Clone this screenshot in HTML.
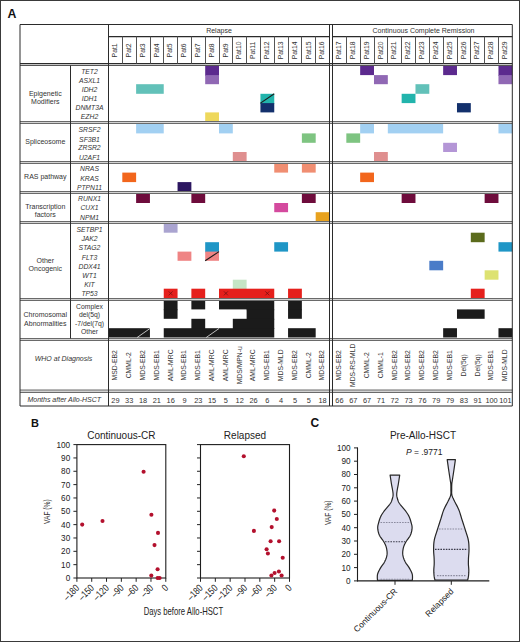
<!DOCTYPE html>
<html><head><meta charset="utf-8"><style>
html,body{margin:0;padding:0;background:#fff;}
body{width:520px;height:642px;overflow:hidden;font-family:"Liberation Sans",sans-serif;}
text{font-family:"Liberation Sans",sans-serif;}
</style></head><body>
<svg width="520" height="642" viewBox="0 0 520 642" style="display:block"><rect x="0" y="0" width="520" height="642" fill="#fff"/><g><rect x="205.19" y="65.80" width="13.81" height="10.10" fill="#5c2a8e"/><rect x="360.16" y="65.80" width="13.83" height="9.30" fill="#5c2a8e"/><rect x="443.15" y="65.80" width="13.83" height="9.30" fill="#5c2a8e"/><rect x="498.47" y="65.80" width="13.83" height="10.10" fill="#5c2a8e"/><rect x="205.19" y="75.10" width="13.81" height="9.10" fill="#9068b4"/><rect x="373.99" y="75.10" width="13.83" height="9.10" fill="#9068b4"/><rect x="498.47" y="75.10" width="13.83" height="9.10" fill="#9068b4"/><rect x="136.12" y="84.20" width="27.62" height="9.60" fill="#62c1b9"/><rect x="415.48" y="84.20" width="13.83" height="9.60" fill="#62c1b9"/><rect x="260.44" y="93.80" width="13.81" height="10.10" fill="#22b4ac"/><rect x="401.65" y="93.80" width="13.83" height="9.30" fill="#22b4ac"/><rect x="260.44" y="103.10" width="13.81" height="9.30" fill="#13306c"/><rect x="456.98" y="103.10" width="13.83" height="9.30" fill="#13306c"/><rect x="205.19" y="112.40" width="13.81" height="9.40" fill="#eed85c"/><rect x="136.12" y="124.00" width="27.62" height="9.40" fill="#a2d0f2"/><rect x="219.00" y="124.00" width="13.81" height="9.40" fill="#a2d0f2"/><rect x="360.16" y="124.00" width="13.83" height="9.40" fill="#a2d0f2"/><rect x="387.82" y="124.00" width="55.32" height="9.40" fill="#a2d0f2"/><rect x="498.47" y="124.00" width="13.83" height="9.40" fill="#a2d0f2"/><rect x="301.88" y="133.40" width="13.81" height="9.40" fill="#7ec481"/><rect x="346.33" y="133.40" width="13.83" height="9.40" fill="#7ec481"/><rect x="443.15" y="142.80" width="13.83" height="9.20" fill="#b496d6"/><rect x="232.81" y="152.00" width="13.81" height="9.20" fill="#df8f8f"/><rect x="373.99" y="152.00" width="13.83" height="9.20" fill="#df8f8f"/><rect x="274.25" y="163.80" width="13.81" height="8.80" fill="#f08e72"/><rect x="301.88" y="163.80" width="13.81" height="8.80" fill="#f08e72"/><rect x="122.31" y="172.60" width="13.81" height="9.50" fill="#f2661c"/><rect x="360.16" y="172.60" width="13.83" height="9.50" fill="#f2661c"/><rect x="177.56" y="182.10" width="13.81" height="9.20" fill="#2c1660"/><rect x="136.12" y="193.60" width="13.81" height="9.40" fill="#6e0c3c"/><rect x="191.38" y="193.60" width="13.81" height="9.40" fill="#6e0c3c"/><rect x="301.88" y="193.60" width="13.81" height="9.40" fill="#6e0c3c"/><rect x="401.65" y="193.60" width="13.83" height="9.40" fill="#6e0c3c"/><rect x="484.64" y="193.60" width="13.83" height="9.40" fill="#6e0c3c"/><rect x="274.25" y="203.00" width="13.81" height="9.20" fill="#d44a9e"/><rect x="315.69" y="212.20" width="13.81" height="9.10" fill="#e8a21e"/><rect x="163.75" y="223.50" width="13.81" height="9.20" fill="#aaa4d0"/><rect x="470.81" y="232.70" width="13.83" height="9.50" fill="#5b6b1c"/><rect x="205.19" y="242.20" width="13.81" height="10.20" fill="#1f96c6"/><rect x="274.25" y="242.20" width="13.81" height="9.40" fill="#1f96c6"/><rect x="498.47" y="242.20" width="13.83" height="9.40" fill="#1f96c6"/><rect x="177.56" y="251.60" width="13.81" height="9.20" fill="#ef8484"/><rect x="205.19" y="251.60" width="13.81" height="9.20" fill="#ef8484"/><rect x="429.32" y="260.80" width="13.83" height="9.50" fill="#4a7cc8"/><rect x="484.64" y="270.30" width="13.83" height="9.40" fill="#dde271"/><rect x="232.81" y="279.70" width="13.81" height="9.80" fill="#c5e5c5"/><rect x="163.75" y="288.70" width="13.81" height="9.30" fill="#e5201c"/><rect x="191.38" y="288.70" width="13.81" height="9.30" fill="#e5201c"/><rect x="219.00" y="288.70" width="55.25" height="9.30" fill="#e5201c"/><rect x="288.06" y="288.70" width="13.81" height="9.30" fill="#e5201c"/><rect x="470.81" y="288.70" width="13.83" height="9.30" fill="#e5201c"/><rect x="163.75" y="300.50" width="13.81" height="9.70" fill="#1b1b1b"/><rect x="191.38" y="300.50" width="13.81" height="8.90" fill="#1b1b1b"/><rect x="219.00" y="300.50" width="28.23" height="8.90" fill="#1b1b1b"/><rect x="246.62" y="300.50" width="27.62" height="9.70" fill="#1b1b1b"/><rect x="288.06" y="300.50" width="13.81" height="9.70" fill="#1b1b1b"/><rect x="163.75" y="309.40" width="13.81" height="9.40" fill="#1b1b1b"/><rect x="246.62" y="309.40" width="27.62" height="10.20" fill="#1b1b1b"/><rect x="288.06" y="309.40" width="13.81" height="9.40" fill="#1b1b1b"/><rect x="456.98" y="309.40" width="27.66" height="9.40" fill="#1b1b1b"/><rect x="191.38" y="318.80" width="13.81" height="10.20" fill="#1b1b1b"/><rect x="232.81" y="318.80" width="41.44" height="10.20" fill="#1b1b1b"/><rect x="108.50" y="328.20" width="41.44" height="9.30" fill="#1b1b1b"/><rect x="163.75" y="328.20" width="110.50" height="9.30" fill="#1b1b1b"/><rect x="288.06" y="328.20" width="27.62" height="9.30" fill="#1b1b1b"/><rect x="443.15" y="328.20" width="13.83" height="9.30" fill="#1b1b1b"/><rect x="498.47" y="328.20" width="13.83" height="9.30" fill="#1b1b1b"/></g><line x1="260.44" y1="103.10" x2="274.25" y2="93.80" stroke="#1a1a1a" stroke-width="1.1"/><line x1="205.19" y1="260.80" x2="219.00" y2="251.60" stroke="#1a1a1a" stroke-width="1.1"/><line x1="137.12" y1="337.50" x2="149.94" y2="328.50" stroke="#e8e8e8" stroke-width="0.8"/><line x1="206.19" y1="337.50" x2="219.00" y2="328.50" stroke="#e8e8e8" stroke-width="0.8"/><path d="M168.66 291.35L172.66 295.35M172.66 291.35L168.66 295.35" stroke="#6a1010" stroke-width="0.7"/><path d="M223.91 291.35L227.91 295.35M227.91 291.35L223.91 295.35" stroke="#6a1010" stroke-width="0.7"/><path d="M265.34 291.35L269.34 295.35M269.34 291.35L265.34 295.35" stroke="#6a1010" stroke-width="0.7"/><g><rect x="20.0" y="63.5" width="492.29999999999995" height="2" fill="#c4c4c4"/><line x1="20.0" y1="63.5" x2="512.3" y2="63.5" stroke="#2b2b2b" stroke-width="1"/><line x1="20.0" y1="65.5" x2="512.3" y2="65.5" stroke="#555" stroke-width="1"/><rect x="20.0" y="121.5" width="492.29999999999995" height="2.0" fill="#d2d2d2"/><line x1="20.0" y1="121.5" x2="512.3" y2="121.5" stroke="#6a6a6a" stroke-width="1"/><line x1="20.0" y1="123.5" x2="512.3" y2="123.5" stroke="#6a6a6a" stroke-width="1"/><rect x="20.0" y="161.5" width="492.29999999999995" height="2.0" fill="#d2d2d2"/><line x1="20.0" y1="161.5" x2="512.3" y2="161.5" stroke="#6a6a6a" stroke-width="1"/><line x1="20.0" y1="163.5" x2="512.3" y2="163.5" stroke="#6a6a6a" stroke-width="1"/><rect x="20.0" y="191.5" width="492.29999999999995" height="2.0" fill="#d2d2d2"/><line x1="20.0" y1="191.5" x2="512.3" y2="191.5" stroke="#6a6a6a" stroke-width="1"/><line x1="20.0" y1="193.5" x2="512.3" y2="193.5" stroke="#6a6a6a" stroke-width="1"/><rect x="20.0" y="221.5" width="492.29999999999995" height="2.0" fill="#d2d2d2"/><line x1="20.0" y1="221.5" x2="512.3" y2="221.5" stroke="#6a6a6a" stroke-width="1"/><line x1="20.0" y1="223.5" x2="512.3" y2="223.5" stroke="#6a6a6a" stroke-width="1"/><rect x="20.0" y="298.5" width="492.29999999999995" height="2.0" fill="#d2d2d2"/><line x1="20.0" y1="298.5" x2="512.3" y2="298.5" stroke="#6a6a6a" stroke-width="1"/><line x1="20.0" y1="300.5" x2="512.3" y2="300.5" stroke="#6a6a6a" stroke-width="1"/><rect x="20.0" y="338.5" width="492.29999999999995" height="2.0" fill="#d2d2d2"/><line x1="20.0" y1="338.5" x2="512.3" y2="338.5" stroke="#6a6a6a" stroke-width="1"/><line x1="20.0" y1="340.5" x2="512.3" y2="340.5" stroke="#6a6a6a" stroke-width="1"/><rect x="20.0" y="390" width="492.29999999999995" height="2.5" fill="#d2d2d2"/><line x1="20.0" y1="390" x2="512.3" y2="390" stroke="#6a6a6a" stroke-width="1"/><line x1="20.0" y1="392.5" x2="512.3" y2="392.5" stroke="#6a6a6a" stroke-width="1"/><line x1="20.0" y1="24.5" x2="512.3" y2="24.5" stroke="#2b2b2b" stroke-width="1"/><line x1="20.0" y1="406.0" x2="512.3" y2="406.0" stroke="#2b2b2b" stroke-width="1"/><line x1="20.0" y1="24.5" x2="20.0" y2="406.0" stroke="#2b2b2b" stroke-width="1"/><line x1="512.3" y1="24.5" x2="512.3" y2="406.0" stroke="#2b2b2b" stroke-width="1"/><line x1="108.5" y1="24.5" x2="108.5" y2="406.0" stroke="#2b2b2b" stroke-width="1"/><line x1="329.5" y1="24.5" x2="329.5" y2="406.0" stroke="#2b2b2b" stroke-width="1"/><line x1="332.5" y1="24.5" x2="332.5" y2="406.0" stroke="#2b2b2b" stroke-width="1"/><line x1="108.5" y1="36.6" x2="329.5" y2="36.6" stroke="#2b2b2b" stroke-width="1.3"/><line x1="332.5" y1="36.6" x2="512.3" y2="36.6" stroke="#2b2b2b" stroke-width="1.3"/><line x1="122.5" y1="36.5" x2="122.5" y2="63.5" stroke="#555" stroke-width="1"/><line x1="136.5" y1="36.5" x2="136.5" y2="63.5" stroke="#555" stroke-width="1"/><line x1="150.5" y1="36.5" x2="150.5" y2="63.5" stroke="#555" stroke-width="1"/><line x1="163.5" y1="36.5" x2="163.5" y2="63.5" stroke="#555" stroke-width="1"/><line x1="177.5" y1="36.5" x2="177.5" y2="63.5" stroke="#555" stroke-width="1"/><line x1="191.5" y1="36.5" x2="191.5" y2="63.5" stroke="#555" stroke-width="1"/><line x1="205.5" y1="36.5" x2="205.5" y2="63.5" stroke="#555" stroke-width="1"/><line x1="219.5" y1="36.5" x2="219.5" y2="63.5" stroke="#555" stroke-width="1"/><line x1="232.5" y1="36.5" x2="232.5" y2="63.5" stroke="#555" stroke-width="1"/><line x1="246.5" y1="36.5" x2="246.5" y2="63.5" stroke="#555" stroke-width="1"/><line x1="260.5" y1="36.5" x2="260.5" y2="63.5" stroke="#555" stroke-width="1"/><line x1="274.5" y1="36.5" x2="274.5" y2="63.5" stroke="#555" stroke-width="1"/><line x1="288.5" y1="36.5" x2="288.5" y2="63.5" stroke="#555" stroke-width="1"/><line x1="301.5" y1="36.5" x2="301.5" y2="63.5" stroke="#555" stroke-width="1"/><line x1="315.5" y1="36.5" x2="315.5" y2="63.5" stroke="#555" stroke-width="1"/><line x1="346.5" y1="36.5" x2="346.5" y2="63.5" stroke="#555" stroke-width="1"/><line x1="360.5" y1="36.5" x2="360.5" y2="63.5" stroke="#555" stroke-width="1"/><line x1="374.5" y1="36.5" x2="374.5" y2="63.5" stroke="#555" stroke-width="1"/><line x1="387.5" y1="36.5" x2="387.5" y2="63.5" stroke="#555" stroke-width="1"/><line x1="401.5" y1="36.5" x2="401.5" y2="63.5" stroke="#555" stroke-width="1"/><line x1="415.5" y1="36.5" x2="415.5" y2="63.5" stroke="#555" stroke-width="1"/><line x1="429.5" y1="36.5" x2="429.5" y2="63.5" stroke="#555" stroke-width="1"/><line x1="443.5" y1="36.5" x2="443.5" y2="63.5" stroke="#555" stroke-width="1"/><line x1="457.5" y1="36.5" x2="457.5" y2="63.5" stroke="#555" stroke-width="1"/><line x1="470.5" y1="36.5" x2="470.5" y2="63.5" stroke="#555" stroke-width="1"/><line x1="484.5" y1="36.5" x2="484.5" y2="63.5" stroke="#555" stroke-width="1"/><line x1="498.5" y1="36.5" x2="498.5" y2="63.5" stroke="#555" stroke-width="1"/><line x1="70.5" y1="65.5" x2="70.5" y2="338.5" stroke="#2b2b2b" stroke-width="1"/></g><rect x="76.9" y="444.60" width="88.9" height="133.40" fill="none" stroke="#1e1e1e" stroke-width="1.1"/><line x1="73.4" y1="578.00" x2="76.9" y2="578.00" stroke="#222" stroke-width="1"/><line x1="73.4" y1="564.66" x2="76.9" y2="564.66" stroke="#222" stroke-width="1"/><line x1="73.4" y1="551.32" x2="76.9" y2="551.32" stroke="#222" stroke-width="1"/><line x1="73.4" y1="537.98" x2="76.9" y2="537.98" stroke="#222" stroke-width="1"/><line x1="73.4" y1="524.64" x2="76.9" y2="524.64" stroke="#222" stroke-width="1"/><line x1="73.4" y1="511.30" x2="76.9" y2="511.30" stroke="#222" stroke-width="1"/><line x1="73.4" y1="497.96" x2="76.9" y2="497.96" stroke="#222" stroke-width="1"/><line x1="73.4" y1="484.62" x2="76.9" y2="484.62" stroke="#222" stroke-width="1"/><line x1="73.4" y1="471.28" x2="76.9" y2="471.28" stroke="#222" stroke-width="1"/><line x1="73.4" y1="457.94" x2="76.9" y2="457.94" stroke="#222" stroke-width="1"/><line x1="73.4" y1="444.60" x2="76.9" y2="444.60" stroke="#222" stroke-width="1"/><line x1="76.90" y1="578" x2="76.90" y2="581.8" stroke="#222" stroke-width="1"/><line x1="91.72" y1="578" x2="91.72" y2="581.8" stroke="#222" stroke-width="1"/><line x1="106.53" y1="578" x2="106.53" y2="581.8" stroke="#222" stroke-width="1"/><line x1="121.35" y1="578" x2="121.35" y2="581.8" stroke="#222" stroke-width="1"/><line x1="136.17" y1="578" x2="136.17" y2="581.8" stroke="#222" stroke-width="1"/><line x1="150.98" y1="578" x2="150.98" y2="581.8" stroke="#222" stroke-width="1"/><line x1="165.80" y1="578" x2="165.80" y2="581.8" stroke="#222" stroke-width="1"/><rect x="200.5" y="444.60" width="89.0" height="133.40" fill="none" stroke="#1e1e1e" stroke-width="1.1"/><line x1="197.0" y1="578.00" x2="200.5" y2="578.00" stroke="#222" stroke-width="1"/><line x1="197.0" y1="564.66" x2="200.5" y2="564.66" stroke="#222" stroke-width="1"/><line x1="197.0" y1="551.32" x2="200.5" y2="551.32" stroke="#222" stroke-width="1"/><line x1="197.0" y1="537.98" x2="200.5" y2="537.98" stroke="#222" stroke-width="1"/><line x1="197.0" y1="524.64" x2="200.5" y2="524.64" stroke="#222" stroke-width="1"/><line x1="197.0" y1="511.30" x2="200.5" y2="511.30" stroke="#222" stroke-width="1"/><line x1="197.0" y1="497.96" x2="200.5" y2="497.96" stroke="#222" stroke-width="1"/><line x1="197.0" y1="484.62" x2="200.5" y2="484.62" stroke="#222" stroke-width="1"/><line x1="197.0" y1="471.28" x2="200.5" y2="471.28" stroke="#222" stroke-width="1"/><line x1="197.0" y1="457.94" x2="200.5" y2="457.94" stroke="#222" stroke-width="1"/><line x1="197.0" y1="444.60" x2="200.5" y2="444.60" stroke="#222" stroke-width="1"/><line x1="200.50" y1="578" x2="200.50" y2="581.8" stroke="#222" stroke-width="1"/><line x1="215.33" y1="578" x2="215.33" y2="581.8" stroke="#222" stroke-width="1"/><line x1="230.17" y1="578" x2="230.17" y2="581.8" stroke="#222" stroke-width="1"/><line x1="245.00" y1="578" x2="245.00" y2="581.8" stroke="#222" stroke-width="1"/><line x1="259.83" y1="578" x2="259.83" y2="581.8" stroke="#222" stroke-width="1"/><line x1="274.67" y1="578" x2="274.67" y2="581.8" stroke="#222" stroke-width="1"/><line x1="289.50" y1="578" x2="289.50" y2="581.8" stroke="#222" stroke-width="1"/><circle cx="82.2" cy="524.6" r="2.05" fill="#b3102d"/><circle cx="102.5" cy="521.0" r="2.05" fill="#b3102d"/><circle cx="143.6" cy="471.8" r="2.05" fill="#b3102d"/><circle cx="151.4" cy="514.7" r="2.05" fill="#b3102d"/><circle cx="158" cy="532.9" r="2.05" fill="#b3102d"/><circle cx="154.5" cy="545.1" r="2.05" fill="#b3102d"/><circle cx="157.6" cy="569.3" r="2.05" fill="#b3102d"/><circle cx="151.3" cy="575.6" r="2.05" fill="#b3102d"/><circle cx="157.6" cy="578" r="2.05" fill="#b3102d"/><circle cx="159.6" cy="578" r="2.05" fill="#b3102d"/><circle cx="243.8" cy="456.3" r="2.05" fill="#b3102d"/><circle cx="274.2" cy="510.6" r="2.05" fill="#b3102d"/><circle cx="276.8" cy="519" r="2.05" fill="#b3102d"/><circle cx="271.7" cy="527.1" r="2.05" fill="#b3102d"/><circle cx="253.9" cy="530.9" r="2.05" fill="#b3102d"/><circle cx="270.6" cy="541.3" r="2.05" fill="#b3102d"/><circle cx="279.1" cy="541.3" r="2.05" fill="#b3102d"/><circle cx="266.6" cy="549.3" r="2.05" fill="#b3102d"/><circle cx="267.9" cy="553.5" r="2.05" fill="#b3102d"/><circle cx="282.7" cy="557.8" r="2.05" fill="#b3102d"/><circle cx="278.9" cy="571.5" r="2.05" fill="#b3102d"/><circle cx="274.6" cy="573" r="2.05" fill="#b3102d"/><circle cx="271.4" cy="575.5" r="2.05" fill="#b3102d"/><circle cx="281.6" cy="575.5" r="2.05" fill="#b3102d"/><line x1="357.5" y1="447.40" x2="357.5" y2="581.4" stroke="#1e1e1e" stroke-width="1.1"/><line x1="357" y1="580.9" x2="489.3" y2="580.9" stroke="#1e1e1e" stroke-width="1.1"/><line x1="354" y1="580.90" x2="357.5" y2="580.90" stroke="#222" stroke-width="1"/><line x1="354" y1="567.60" x2="357.5" y2="567.60" stroke="#222" stroke-width="1"/><line x1="354" y1="554.30" x2="357.5" y2="554.30" stroke="#222" stroke-width="1"/><line x1="354" y1="541.00" x2="357.5" y2="541.00" stroke="#222" stroke-width="1"/><line x1="354" y1="527.70" x2="357.5" y2="527.70" stroke="#222" stroke-width="1"/><line x1="354" y1="514.40" x2="357.5" y2="514.40" stroke="#222" stroke-width="1"/><line x1="354" y1="501.10" x2="357.5" y2="501.10" stroke="#222" stroke-width="1"/><line x1="354" y1="487.80" x2="357.5" y2="487.80" stroke="#222" stroke-width="1"/><line x1="354" y1="474.50" x2="357.5" y2="474.50" stroke="#222" stroke-width="1"/><line x1="354" y1="461.20" x2="357.5" y2="461.20" stroke="#222" stroke-width="1"/><line x1="354" y1="447.90" x2="357.5" y2="447.90" stroke="#222" stroke-width="1"/><line x1="395.0" y1="580.9" x2="395.0" y2="584.8" stroke="#222" stroke-width="1"/><line x1="451.3" y1="580.9" x2="451.3" y2="584.8" stroke="#222" stroke-width="1"/><polygon points="399.70,475.10 398.35,484.00 398.15,485.08 397.86,486.61 397.52,488.41 397.19,490.27 396.91,492.00 396.75,493.40 396.70,494.44 396.71,495.29 396.79,495.99 396.91,496.64 397.07,497.28 397.25,498.00 397.45,498.78 397.67,499.56 397.93,500.34 398.23,501.13 398.59,501.92 399.00,502.70 399.49,503.48 400.06,504.27 400.68,505.06 401.32,505.84 401.97,506.62 402.60,507.40 403.22,508.17 403.86,508.94 404.50,509.70 405.13,510.46 405.73,511.23 406.30,512.00 406.83,512.76 407.35,513.52 407.83,514.28 408.30,515.05 408.74,515.85 409.15,516.70 409.54,517.61 409.90,518.56 410.24,519.54 410.55,520.54 410.84,521.53 411.10,522.50 411.35,523.43 411.60,524.33 411.83,525.22 412.00,526.13 412.10,527.08 412.10,528.10 412.00,529.20 411.83,530.37 411.59,531.59 411.27,532.81 410.87,534.03 410.40,535.20 409.80,536.34 409.06,537.47 408.25,538.59 407.43,539.69 406.65,540.76 406.00,541.80 405.45,542.77 404.96,543.69 404.52,544.57 404.13,545.47 403.79,546.40 403.50,547.40 403.24,548.48 403.01,549.63 402.83,550.81 402.71,552.01 402.68,553.21 402.75,554.40 402.93,555.59 403.21,556.80 403.57,558.01 404.00,559.20 404.48,560.37 405.00,561.50 405.59,562.57 406.27,563.61 407.00,564.61 407.75,565.60 408.46,566.59 409.10,567.60 409.69,568.64 410.28,569.70 410.83,570.76 411.33,571.80 411.76,572.79 412.10,573.70 412.32,574.57 412.44,575.43 412.49,576.23 412.49,576.95 412.49,577.55 412.50,578.00 412.30,580.40 377.50,580.40 377.30,578.00 377.31,577.55 377.31,576.95 377.31,576.23 377.36,575.43 377.48,574.57 377.70,573.70 378.04,572.79 378.47,571.80 378.97,570.76 379.52,569.70 380.11,568.64 380.70,567.60 381.34,566.59 382.05,565.60 382.80,564.61 383.53,563.61 384.21,562.57 384.80,561.50 385.32,560.37 385.80,559.20 386.23,558.01 386.59,556.80 386.87,555.59 387.05,554.40 387.12,553.21 387.09,552.01 386.97,550.81 386.79,549.63 386.56,548.48 386.30,547.40 386.01,546.40 385.67,545.47 385.28,544.57 384.84,543.69 384.35,542.77 383.80,541.80 383.15,540.76 382.37,539.69 381.55,538.59 380.74,537.47 380.00,536.34 379.40,535.20 378.93,534.03 378.53,532.81 378.21,531.59 377.97,530.37 377.80,529.20 377.70,528.10 377.70,527.08 377.80,526.13 377.97,525.22 378.20,524.33 378.45,523.43 378.70,522.50 378.96,521.53 379.25,520.54 379.56,519.54 379.90,518.56 380.26,517.61 380.65,516.70 381.06,515.85 381.50,515.05 381.97,514.28 382.45,513.52 382.97,512.76 383.50,512.00 384.07,511.23 384.67,510.46 385.30,509.70 385.94,508.94 386.58,508.17 387.20,507.40 387.83,506.62 388.48,505.84 389.12,505.06 389.74,504.27 390.31,503.48 390.80,502.70 391.21,501.92 391.57,501.13 391.87,500.34 392.13,499.56 392.35,498.78 392.55,498.00 392.73,497.28 392.89,496.64 393.01,495.99 393.09,495.29 393.10,494.44 393.05,493.40 392.89,492.00 392.61,490.27 392.28,488.41 391.94,486.61 391.65,485.08 391.45,484.00 390.10,475.10" fill="#dcdcef" stroke="#262626" stroke-width="1.2" stroke-linejoin="round"/><polygon points="455.40,459.60 454.05,469.20 453.86,470.45 453.58,472.25 453.26,474.35 452.93,476.50 452.63,478.47 452.40,480.00 452.23,481.04 452.10,481.76 452.00,482.30 451.92,482.77 451.86,483.30 451.80,484.00 451.75,484.90 451.72,485.89 451.70,486.94 451.69,488.00 451.69,489.03 451.70,490.00 451.69,490.88 451.66,491.71 451.64,492.51 451.66,493.31 451.74,494.13 451.90,495.00 452.15,495.89 452.46,496.77 452.84,497.67 453.27,498.62 453.76,499.66 454.30,500.80 454.93,502.06 455.66,503.42 456.44,504.86 457.23,506.36 458.00,507.91 458.70,509.50 459.33,511.16 459.93,512.92 460.49,514.73 461.04,516.54 461.57,518.32 462.10,520.00 462.61,521.56 463.09,523.04 463.56,524.47 464.02,525.91 464.50,527.40 465.00,529.00 465.56,530.73 466.17,532.57 466.79,534.47 467.38,536.37 467.90,538.23 468.30,540.00 468.58,541.68 468.77,543.31 468.89,544.91 468.95,546.46 468.98,547.99 469.00,549.50 468.98,551.00 468.91,552.50 468.80,553.97 468.68,555.39 468.57,556.74 468.50,558.00 468.45,559.14 468.42,560.19 468.39,561.16 468.38,562.09 468.38,563.03 468.40,564.00 468.44,565.01 468.52,566.04 468.61,567.06 468.69,568.07 468.76,569.06 468.80,570.00 468.80,570.91 468.79,571.80 468.76,572.66 468.71,573.48 468.66,574.27 468.60,575.00 468.53,575.71 468.44,576.41 468.34,577.06 468.24,577.65 468.16,578.14 468.10,578.50 467.50,580.20 435.10,580.20 434.50,578.50 434.44,578.14 434.36,577.65 434.26,577.06 434.16,576.41 434.07,575.71 434.00,575.00 433.94,574.27 433.89,573.48 433.84,572.66 433.81,571.80 433.80,570.91 433.80,570.00 433.84,569.06 433.91,568.07 433.99,567.06 434.08,566.04 434.16,565.01 434.20,564.00 434.22,563.03 434.22,562.09 434.21,561.16 434.18,560.19 434.15,559.14 434.10,558.00 434.03,556.74 433.92,555.39 433.80,553.97 433.69,552.50 433.62,551.00 433.60,549.50 433.62,547.99 433.65,546.46 433.71,544.91 433.83,543.31 434.02,541.68 434.30,540.00 434.70,538.23 435.22,536.37 435.81,534.47 436.43,532.57 437.04,530.73 437.60,529.00 438.10,527.40 438.58,525.91 439.04,524.47 439.51,523.04 439.99,521.56 440.50,520.00 441.03,518.32 441.56,516.54 442.11,514.73 442.67,512.92 443.27,511.16 443.90,509.50 444.60,507.91 445.37,506.36 446.16,504.86 446.94,503.42 447.67,502.06 448.30,500.80 448.84,499.66 449.33,498.62 449.76,497.67 450.14,496.77 450.45,495.89 450.70,495.00 450.86,494.13 450.94,493.31 450.96,492.51 450.94,491.71 450.91,490.88 450.90,490.00 450.91,489.03 450.91,488.00 450.90,486.94 450.88,485.89 450.85,484.90 450.80,484.00 450.74,483.30 450.68,482.77 450.60,482.30 450.50,481.76 450.37,481.04 450.20,480.00 449.97,478.47 449.67,476.50 449.34,474.35 449.02,472.25 448.74,470.45 448.55,469.20 447.20,459.60" fill="#dcdcef" stroke="#262626" stroke-width="1.2" stroke-linejoin="round"/><line x1="380.5" y1="522.5" x2="409.5" y2="522.5" stroke="#8a8a9e" stroke-width="1.1" stroke-dasharray="1.6,1.1"/><line x1="385" y1="541.8" x2="405" y2="541.8" stroke="#3a3a4a" stroke-width="1.1" stroke-dasharray="1.6,1.1"/><line x1="380.5" y1="579.2" x2="409.5" y2="579.2" stroke="#8a8a9e" stroke-width="1.1" stroke-dasharray="1.6,1.1"/><line x1="439" y1="529" x2="463.5" y2="529" stroke="#8a8a9e" stroke-width="1.1" stroke-dasharray="1.6,1.1"/><line x1="435" y1="549.4" x2="467.5" y2="549.4" stroke="#3a3a4a" stroke-width="1.1" stroke-dasharray="1.6,1.1"/><line x1="437" y1="575.6" x2="465.5" y2="575.6" stroke="#8a8a9e" stroke-width="1.1" stroke-dasharray="1.6,1.1"/><g font-family="Liberation Sans, sans-serif"><text x="219" y="33" font-size="7" text-anchor="middle" fill="#333" >Relapse</text><text x="423.5" y="33" font-size="7" text-anchor="middle" fill="#333" >Continuous Complete Remission</text><text transform="translate(117.16,50.4) rotate(-90)" font-size="6.8" text-anchor="middle" fill="#333">Pat1</text><text transform="translate(130.97,50.4) rotate(-90)" font-size="6.8" text-anchor="middle" fill="#333">Pat2</text><text transform="translate(144.78,50.4) rotate(-90)" font-size="6.8" text-anchor="middle" fill="#333">Pat3</text><text transform="translate(158.59,50.4) rotate(-90)" font-size="6.8" text-anchor="middle" fill="#333">Pat4</text><text transform="translate(172.41,50.4) rotate(-90)" font-size="6.8" text-anchor="middle" fill="#333">Pat5</text><text transform="translate(186.22,50.4) rotate(-90)" font-size="6.8" text-anchor="middle" fill="#333">Pat6</text><text transform="translate(200.03,50.4) rotate(-90)" font-size="6.8" text-anchor="middle" fill="#333">Pat7</text><text transform="translate(213.84,50.4) rotate(-90)" font-size="6.8" text-anchor="middle" fill="#333">Pat8</text><text transform="translate(227.66,50.4) rotate(-90)" font-size="6.8" text-anchor="middle" fill="#333">Pat9</text><text transform="translate(241.47,50.4) rotate(-90)" font-size="6.8" text-anchor="middle" fill="#333">Pat10</text><text transform="translate(255.28,50.4) rotate(-90)" font-size="6.8" text-anchor="middle" fill="#333">Pat11</text><text transform="translate(269.09,50.4) rotate(-90)" font-size="6.8" text-anchor="middle" fill="#333">Pat12</text><text transform="translate(282.91,50.4) rotate(-90)" font-size="6.8" text-anchor="middle" fill="#333">Pat13</text><text transform="translate(296.72,50.4) rotate(-90)" font-size="6.8" text-anchor="middle" fill="#333">Pat14</text><text transform="translate(310.53,50.4) rotate(-90)" font-size="6.8" text-anchor="middle" fill="#333">Pat15</text><text transform="translate(324.34,50.4) rotate(-90)" font-size="6.8" text-anchor="middle" fill="#333">Pat16</text><text transform="translate(341.17,50.4) rotate(-90)" font-size="6.8" text-anchor="middle" fill="#333">Pat17</text><text transform="translate(355.00,50.4) rotate(-90)" font-size="6.8" text-anchor="middle" fill="#333">Pat18</text><text transform="translate(368.83,50.4) rotate(-90)" font-size="6.8" text-anchor="middle" fill="#333">Pat19</text><text transform="translate(382.66,50.4) rotate(-90)" font-size="6.8" text-anchor="middle" fill="#333">Pat20</text><text transform="translate(396.49,50.4) rotate(-90)" font-size="6.8" text-anchor="middle" fill="#333">Pat21</text><text transform="translate(410.32,50.4) rotate(-90)" font-size="6.8" text-anchor="middle" fill="#333">Pat22</text><text transform="translate(424.15,50.4) rotate(-90)" font-size="6.8" text-anchor="middle" fill="#333">Pat23</text><text transform="translate(437.98,50.4) rotate(-90)" font-size="6.8" text-anchor="middle" fill="#333">Pat24</text><text transform="translate(451.81,50.4) rotate(-90)" font-size="6.8" text-anchor="middle" fill="#333">Pat25</text><text transform="translate(465.64,50.4) rotate(-90)" font-size="6.8" text-anchor="middle" fill="#333">Pat26</text><text transform="translate(479.47,50.4) rotate(-90)" font-size="6.8" text-anchor="middle" fill="#333">Pat27</text><text transform="translate(493.30,50.4) rotate(-90)" font-size="6.8" text-anchor="middle" fill="#333">Pat28</text><text transform="translate(507.13,50.4) rotate(-90)" font-size="6.8" text-anchor="middle" fill="#333">Pat29</text><text x="45.3" y="95.5" font-size="7" text-anchor="middle" fill="#333" >Epigenetic</text><text x="45.3" y="103.5" font-size="7" text-anchor="middle" fill="#333" >Modifiers</text><text x="89.5" y="73.7" font-size="6.8" text-anchor="middle" fill="#333" font-style="italic" >TET2</text><text x="89.5" y="82.5" font-size="6.8" text-anchor="middle" fill="#333" font-style="italic" >ASXL1</text><text x="89.5" y="91.5" font-size="6.8" text-anchor="middle" fill="#333" font-style="italic" >IDH2</text><text x="89.5" y="100.7" font-size="6.8" text-anchor="middle" fill="#333" font-style="italic" >IDH1</text><text x="89.5" y="109.7" font-size="6.8" text-anchor="middle" fill="#333" font-style="italic" >DNMT3A</text><text x="89.5" y="119.0" font-size="6.8" text-anchor="middle" fill="#333" font-style="italic" >EZH2</text><text x="45.3" y="144.2" font-size="7" text-anchor="middle" fill="#333" >Spliceosome</text><text x="89.5" y="131.9" font-size="6.8" text-anchor="middle" fill="#333" font-style="italic" >SRSF2</text><text x="89.5" y="141.5" font-size="6.8" text-anchor="middle" fill="#333" font-style="italic" >SF3B1</text><text x="89.5" y="150.4" font-size="6.8" text-anchor="middle" fill="#333" font-style="italic" >ZRSR2</text><text x="89.5" y="159.7" font-size="6.8" text-anchor="middle" fill="#333" font-style="italic" >U2AF1</text><text x="45.3" y="179.0" font-size="7" text-anchor="middle" fill="#333" >RAS pathway</text><text x="89.5" y="171.4" font-size="6.8" text-anchor="middle" fill="#333" font-style="italic" >NRAS</text><text x="89.5" y="180.6" font-size="6.8" text-anchor="middle" fill="#333" font-style="italic" >KRAS</text><text x="89.5" y="189.6" font-size="6.8" text-anchor="middle" fill="#333" font-style="italic" >PTPN11</text><text x="45.3" y="209.2" font-size="7" text-anchor="middle" fill="#333" >Transcription</text><text x="45.3" y="217.3" font-size="7" text-anchor="middle" fill="#333" >factors</text><text x="89.5" y="201.4" font-size="6.8" text-anchor="middle" fill="#333" font-style="italic" >RUNX1</text><text x="89.5" y="210.4" font-size="6.8" text-anchor="middle" fill="#333" font-style="italic" >CUX1</text><text x="89.5" y="220.0" font-size="6.8" text-anchor="middle" fill="#333" font-style="italic" >NPM1</text><text x="45.3" y="262.7" font-size="7" text-anchor="middle" fill="#333" >Other</text><text x="45.3" y="271.0" font-size="7" text-anchor="middle" fill="#333" >Oncogenic</text><text x="89.5" y="231.5" font-size="6.8" text-anchor="middle" fill="#333" font-style="italic" >SETBP1</text><text x="89.5" y="240.7" font-size="6.8" text-anchor="middle" fill="#333" font-style="italic" >JAK2</text><text x="89.5" y="249.9" font-size="6.8" text-anchor="middle" fill="#333" font-style="italic" >STAG2</text><text x="89.5" y="259.6" font-size="6.8" text-anchor="middle" fill="#333" font-style="italic" >FLT3</text><text x="89.5" y="268.7" font-size="6.8" text-anchor="middle" fill="#333" font-style="italic" >DDX41</text><text x="89.5" y="277.9" font-size="6.8" text-anchor="middle" fill="#333" font-style="italic" >WT1</text><text x="89.5" y="286.9" font-size="6.8" text-anchor="middle" fill="#333" font-style="italic" >KIT</text><text x="89.5" y="296.2" font-size="6.8" text-anchor="middle" fill="#333" font-style="italic" >TP53</text><text x="45.3" y="317.1" font-size="7" text-anchor="middle" fill="#333" >Chromosomal</text><text x="45.3" y="325.5" font-size="7" text-anchor="middle" fill="#333" >Abnormalities</text><text x="89.5" y="309.3" font-size="6.8" text-anchor="middle" fill="#333" >Complex</text><text x="89.5" y="317.3" font-size="6.8" text-anchor="middle" fill="#333" >del(5q)</text><text x="89.5" y="325.9" font-size="6.8" text-anchor="middle" fill="#333" >-7/del(7q)</text><text x="89.5" y="334.4" font-size="6.8" text-anchor="middle" fill="#333" >Other</text><text x="63.5" y="360.9" font-size="7" text-anchor="middle" fill="#333" font-style="italic" >WHO at Diagnosis</text><text x="64.3" y="402.3" font-size="7" text-anchor="middle" fill="#333" font-style="italic" >Months after Allo-HSCT</text><text transform="translate(117.31,365.3) rotate(-90)" font-size="6.8" text-anchor="middle" fill="#333">MSD-EB2</text><text x="115.41" y="402.8" font-size="7.4" text-anchor="middle" fill="#333" >29</text><text transform="translate(131.12,365.3) rotate(-90)" font-size="6.8" text-anchor="middle" fill="#333">CMML-2</text><text x="129.22" y="402.8" font-size="7.4" text-anchor="middle" fill="#333" >33</text><text transform="translate(144.93,365.3) rotate(-90)" font-size="6.8" text-anchor="middle" fill="#333">MDS-EB2</text><text x="143.03" y="402.8" font-size="7.4" text-anchor="middle" fill="#333" >18</text><text transform="translate(158.74,365.3) rotate(-90)" font-size="6.8" text-anchor="middle" fill="#333">MDS-EB1</text><text x="156.84" y="402.8" font-size="7.4" text-anchor="middle" fill="#333" >21</text><text transform="translate(172.56,365.3) rotate(-90)" font-size="6.8" text-anchor="middle" fill="#333">AML-MRC</text><text x="170.66" y="402.8" font-size="7.4" text-anchor="middle" fill="#333" >16</text><text transform="translate(186.37,365.3) rotate(-90)" font-size="6.8" text-anchor="middle" fill="#333">MDS-EB1</text><text x="184.47" y="402.8" font-size="7.4" text-anchor="middle" fill="#333" >9</text><text transform="translate(200.18,365.3) rotate(-90)" font-size="6.8" text-anchor="middle" fill="#333">MDS-EB1</text><text x="198.28" y="402.8" font-size="7.4" text-anchor="middle" fill="#333" >23</text><text transform="translate(213.99,365.3) rotate(-90)" font-size="6.8" text-anchor="middle" fill="#333">AML-MRC</text><text x="212.09" y="402.8" font-size="7.4" text-anchor="middle" fill="#333" >15</text><text transform="translate(227.81,365.3) rotate(-90)" font-size="6.8" text-anchor="middle" fill="#333">AML-MRC</text><text x="225.91" y="402.8" font-size="7.4" text-anchor="middle" fill="#333" >5</text><text transform="translate(241.62,365.3) rotate(-90)" font-size="6.8" text-anchor="middle" fill="#333">MDS/MPN-u</text><text x="239.72" y="402.8" font-size="7.4" text-anchor="middle" fill="#333" >12</text><text transform="translate(255.43,365.3) rotate(-90)" font-size="6.8" text-anchor="middle" fill="#333">AML-MRC</text><text x="253.53" y="402.8" font-size="7.4" text-anchor="middle" fill="#333" >26</text><text transform="translate(269.24,365.3) rotate(-90)" font-size="6.8" text-anchor="middle" fill="#333">MDS-EB1</text><text x="267.34" y="402.8" font-size="7.4" text-anchor="middle" fill="#333" >6</text><text transform="translate(283.06,365.3) rotate(-90)" font-size="6.8" text-anchor="middle" fill="#333">MDS-MLD</text><text x="281.16" y="402.8" font-size="7.4" text-anchor="middle" fill="#333" >4</text><text transform="translate(296.87,365.3) rotate(-90)" font-size="6.8" text-anchor="middle" fill="#333">MDS-EB2</text><text x="294.97" y="402.8" font-size="7.4" text-anchor="middle" fill="#333" >5</text><text transform="translate(310.68,365.3) rotate(-90)" font-size="6.8" text-anchor="middle" fill="#333">CMML-2</text><text x="308.78" y="402.8" font-size="7.4" text-anchor="middle" fill="#333" >5</text><text transform="translate(324.49,365.3) rotate(-90)" font-size="6.8" text-anchor="middle" fill="#333">MDS-EB2</text><text x="322.59" y="402.8" font-size="7.4" text-anchor="middle" fill="#333" >18</text><text transform="translate(341.32,365.3) rotate(-90)" font-size="6.8" text-anchor="middle" fill="#333">MDS-EB2</text><text x="339.42" y="402.8" font-size="7.4" text-anchor="middle" fill="#333" >66</text><text transform="translate(355.15,365.3) rotate(-90)" font-size="6.8" text-anchor="middle" fill="#333">MDS-RS-MLD</text><text x="353.25" y="402.8" font-size="7.4" text-anchor="middle" fill="#333" >67</text><text transform="translate(368.98,365.3) rotate(-90)" font-size="6.8" text-anchor="middle" fill="#333">CMML-2</text><text x="367.08" y="402.8" font-size="7.4" text-anchor="middle" fill="#333" >67</text><text transform="translate(382.81,365.3) rotate(-90)" font-size="6.8" text-anchor="middle" fill="#333">CMML-1</text><text x="380.91" y="402.8" font-size="7.4" text-anchor="middle" fill="#333" >71</text><text transform="translate(396.64,365.3) rotate(-90)" font-size="6.8" text-anchor="middle" fill="#333">MDS-EB2</text><text x="394.74" y="402.8" font-size="7.4" text-anchor="middle" fill="#333" >72</text><text transform="translate(410.47,365.3) rotate(-90)" font-size="6.8" text-anchor="middle" fill="#333">MDS-EB2</text><text x="408.57" y="402.8" font-size="7.4" text-anchor="middle" fill="#333" >73</text><text transform="translate(424.30,365.3) rotate(-90)" font-size="6.8" text-anchor="middle" fill="#333">MDS-EB2</text><text x="422.4" y="402.8" font-size="7.4" text-anchor="middle" fill="#333" >76</text><text transform="translate(438.13,365.3) rotate(-90)" font-size="6.8" text-anchor="middle" fill="#333">MDS-EB2</text><text x="436.23" y="402.8" font-size="7.4" text-anchor="middle" fill="#333" >79</text><text transform="translate(451.96,365.3) rotate(-90)" font-size="6.8" text-anchor="middle" fill="#333">MDS-EB1</text><text x="450.06" y="402.8" font-size="7.4" text-anchor="middle" fill="#333" >79</text><text transform="translate(465.79,365.3) rotate(-90)" font-size="6.8" text-anchor="middle" fill="#333">Del(5q)</text><text x="463.89" y="402.8" font-size="7.4" text-anchor="middle" fill="#333" >83</text><text transform="translate(479.62,365.3) rotate(-90)" font-size="6.8" text-anchor="middle" fill="#333">Del(5q)</text><text x="477.72" y="402.8" font-size="7.4" text-anchor="middle" fill="#333" >91</text><text transform="translate(493.45,365.3) rotate(-90)" font-size="6.8" text-anchor="middle" fill="#333">MDS-EB1</text><text x="491.55" y="402.8" font-size="7.4" text-anchor="middle" fill="#333" >100</text><text transform="translate(507.28,365.3) rotate(-90)" font-size="6.8" text-anchor="middle" fill="#333">MDS-MLD</text><text x="505.38" y="402.8" font-size="7.4" text-anchor="middle" fill="#333" >101</text><text x="7.6" y="17.6" font-size="12.3" text-anchor="start" fill="#111" font-weight="bold" >A</text><text x="31" y="426.5" font-size="11" text-anchor="start" fill="#111" font-weight="bold" >B</text><text x="310.6" y="426.9" font-size="12" text-anchor="start" fill="#111" font-weight="bold" >C</text><text x="70.2" y="580.9" font-size="8.2" text-anchor="end" fill="#222" >0</text><text x="70.2" y="567.56" font-size="8.2" text-anchor="end" fill="#222" >10</text><text x="70.2" y="554.22" font-size="8.2" text-anchor="end" fill="#222" >20</text><text x="70.2" y="540.88" font-size="8.2" text-anchor="end" fill="#222" >30</text><text x="70.2" y="527.54" font-size="8.2" text-anchor="end" fill="#222" >40</text><text x="70.2" y="514.2" font-size="8.2" text-anchor="end" fill="#222" >50</text><text x="70.2" y="500.86" font-size="8.2" text-anchor="end" fill="#222" >60</text><text x="70.2" y="487.52" font-size="8.2" text-anchor="end" fill="#222" >70</text><text x="70.2" y="474.18" font-size="8.2" text-anchor="end" fill="#222" >80</text><text x="70.2" y="460.84" font-size="8.2" text-anchor="end" fill="#222" >90</text><text x="70.2" y="447.5" font-size="8.2" text-anchor="end" fill="#222" >100</text><g transform="translate(79.90,588.6) rotate(-45) scale(0.8,1)"><text x="0" y="0" font-size="10" text-anchor="end" fill="#222">–180</text></g><g transform="translate(94.72,588.6) rotate(-45) scale(0.8,1)"><text x="0" y="0" font-size="10" text-anchor="end" fill="#222">–150</text></g><g transform="translate(109.53,588.6) rotate(-45) scale(0.8,1)"><text x="0" y="0" font-size="10" text-anchor="end" fill="#222">–120</text></g><g transform="translate(124.35,588.6) rotate(-45) scale(0.8,1)"><text x="0" y="0" font-size="10" text-anchor="end" fill="#222">–90</text></g><g transform="translate(139.17,588.6) rotate(-45) scale(0.8,1)"><text x="0" y="0" font-size="10" text-anchor="end" fill="#222">–60</text></g><g transform="translate(153.98,588.6) rotate(-45) scale(0.8,1)"><text x="0" y="0" font-size="10" text-anchor="end" fill="#222">–30</text></g><g transform="translate(168.80,588.6) rotate(-45) scale(0.8,1)"><text x="0" y="0" font-size="10" text-anchor="end" fill="#222">0</text></g><text x="121.35" y="438.8" font-size="10" text-anchor="middle" fill="#222" >Continuous-CR</text><g transform="translate(203.50,588.6) rotate(-45) scale(0.8,1)"><text x="0" y="0" font-size="10" text-anchor="end" fill="#222">–180</text></g><g transform="translate(218.33,588.6) rotate(-45) scale(0.8,1)"><text x="0" y="0" font-size="10" text-anchor="end" fill="#222">–150</text></g><g transform="translate(233.17,588.6) rotate(-45) scale(0.8,1)"><text x="0" y="0" font-size="10" text-anchor="end" fill="#222">–120</text></g><g transform="translate(248.00,588.6) rotate(-45) scale(0.8,1)"><text x="0" y="0" font-size="10" text-anchor="end" fill="#222">–90</text></g><g transform="translate(262.83,588.6) rotate(-45) scale(0.8,1)"><text x="0" y="0" font-size="10" text-anchor="end" fill="#222">–60</text></g><g transform="translate(277.67,588.6) rotate(-45) scale(0.8,1)"><text x="0" y="0" font-size="10" text-anchor="end" fill="#222">–30</text></g><g transform="translate(292.50,588.6) rotate(-45) scale(0.8,1)"><text x="0" y="0" font-size="10" text-anchor="end" fill="#222">0</text></g><text x="245.0" y="438.8" font-size="10" text-anchor="middle" fill="#222" >Relapsed</text><g transform="translate(50.4,511.6) rotate(-90) scale(0.7,1)"><text x="0" y="0" font-size="9.5" text-anchor="middle" fill="#333">VAF (%)</text></g><g transform="translate(183.4,614.8) scale(0.77,1)"><text x="0" y="0" font-size="10" text-anchor="middle" fill="#222">Days before Allo-HSCT</text></g><text x="350.6" y="583.8" font-size="8.2" text-anchor="end" fill="#222" >0</text><text x="350.6" y="570.5" font-size="8.2" text-anchor="end" fill="#222" >10</text><text x="350.6" y="557.2" font-size="8.2" text-anchor="end" fill="#222" >20</text><text x="350.6" y="543.9" font-size="8.2" text-anchor="end" fill="#222" >30</text><text x="350.6" y="530.6" font-size="8.2" text-anchor="end" fill="#222" >40</text><text x="350.6" y="517.3" font-size="8.2" text-anchor="end" fill="#222" >50</text><text x="350.6" y="504.0" font-size="8.2" text-anchor="end" fill="#222" >60</text><text x="350.6" y="490.7" font-size="8.2" text-anchor="end" fill="#222" >70</text><text x="350.6" y="477.4" font-size="8.2" text-anchor="end" fill="#222" >80</text><text x="350.6" y="464.1" font-size="8.2" text-anchor="end" fill="#222" >90</text><text x="350.6" y="450.8" font-size="8.2" text-anchor="end" fill="#222" >100</text><text x="423" y="438.8" font-size="10" text-anchor="middle" fill="#222" >Pre-Allo-HSCT</text><text x="424.2" y="454.8" font-size="8.5" text-anchor="middle" fill="#222"><tspan font-style="italic">P</tspan> = .9771</text><g transform="translate(330.8,512.8) rotate(-90) scale(0.7,1)"><text x="0" y="0" font-size="9.5" text-anchor="middle" fill="#333">VAF (%)</text></g><text transform="translate(397.9,592) rotate(-45)" font-size="8.45" text-anchor="end" fill="#222">Continuous-CR</text><text transform="translate(454.2,592) rotate(-45)" font-size="8.5" text-anchor="end" fill="#222">Relapsed</text></g><rect x="0.5" y="0.5" width="519" height="641" fill="none" stroke="#3a3a3a" stroke-width="1"/></svg>
</body></html>
